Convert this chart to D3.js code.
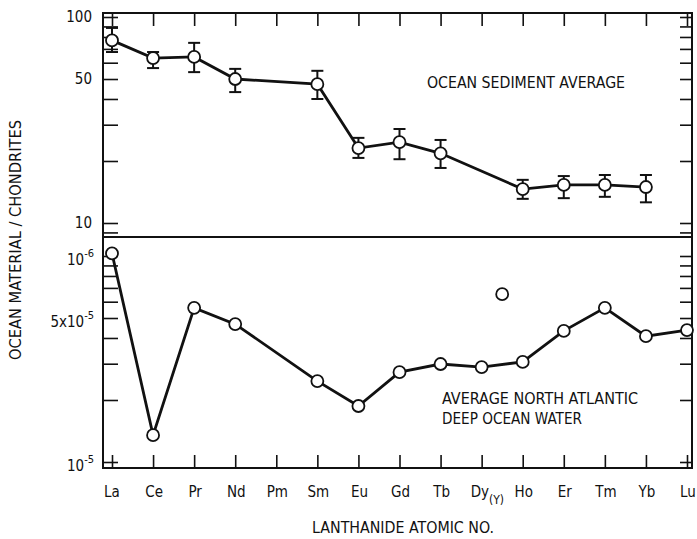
<!DOCTYPE html>
<html>
<head>
<meta charset="utf-8">
<script src="https://cdn.jsdelivr.net/npm/d3@7"></script>
<style>
  html, body { margin: 0; padding: 0; background: #fff; }
  svg text { font-family: "Liberation Sans Narrow", "DejaVu Sans Condensed", "Arial Narrow", sans-serif; fill: #111; }
</style>
</head>
<body>
<script>
// Rare-earth abundances normalised to chondrites
const elements = ["La", "Ce", "Pr", "Nd", "Pm", "Sm", "Eu", "Gd", "Tb", "Dy", "Ho", "Er", "Tm", "Yb", "Lu"];

// Ocean sediment average (mean, upper and lower bounds of the error bar)
const sedimentMean = [77, 63.2, 64, 50, null, 47.2, 23.1, 24.7, 21.8, null, 14.6, 15.3, 15.3, 14.95, null];
const sedimentHigh = [88.5, 67.6, 74.9, 56, null, 54.8, 25.9, 28.6, 25.3, null, 16.2, 16.9, 17.1, 17.1, null];
const sedimentLow  = [67.6, 56.5, 54, 43.2, null, 40, 20.7, 20.4, 18.5, null, 13.1, 13.2, 13.4, 12.6, null];

// Average North Atlantic deep ocean water
const seawater = [1.03e-4, 1.35e-5, 5.6e-5, 4.67e-5, null, 2.47e-5, 1.87e-5, 2.73e-5, 2.99e-5, 2.89e-5, 3.06e-5, 4.33e-5, 5.6e-5, 4.08e-5, 4.37e-5];

// Yttrium, placed between Dy and Ho
const yttriumPosition = 9.5;
const yttriumValue = 6.53e-5;

// Axis ticks and labels
const sedimentTicks = [9, 10, 20, 30, 40, 50, 60, 70, 80, 90, 100];
const sedimentTickLabels = [{ v: 100, text: "100" }, { v: 50, text: "50" }, { v: 10, text: "10" }];
const waterTicks = [1e-5, 2e-5, 3e-5, 4e-5, 5e-5, 6e-5, 7e-5, 8e-5, 9e-5, 1e-4];
const waterTickLabels = [
  { v: 1e-4, base: "10", exp: "-6" },
  { v: 5e-5, base: "5x10", exp: "-5" },
  { v: 1e-5, base: "10", exp: "-5" }
];

const W = 697, H = 539;
const frame = { left: 103, right: 692, top: 13, bottom: 468, split: 237 };

const svg = d3.select("body").append("svg").attr("width", W).attr("height", H);
svg.append("rect").attr("width", W).attr("height", H).attr("fill", "#fff");

const x = d3.scaleLinear().domain([0, elements.length - 1]).range([112, 687]);
const ySed = d3.scaleLog().domain([10, 100]).range([223, 17]);
const yWater = d3.scaleLog().domain([1e-5, 1e-4]).range([462, 256]);

const ink = "#111";

// Tick marks on all four sides, pointing into the plot
function ticks(g) { g.select(".domain").remove(); g.selectAll("line").attr("stroke", ink).attr("stroke-width", 1.6); }

svg.append("g").attr("transform", `translate(${frame.left},0)`)
  .call(d3.axisLeft(ySed).tickValues(sedimentTicks).tickSize(-15).tickFormat("")).call(ticks);
svg.append("g").attr("transform", `translate(${frame.right},0)`)
  .call(d3.axisRight(ySed).tickValues(sedimentTicks).tickSize(-12).tickFormat("")).call(ticks);
svg.append("g").attr("transform", `translate(${frame.left},0)`)
  .call(d3.axisLeft(yWater).tickValues(waterTicks).tickSize(-15).tickFormat("")).call(ticks);
svg.append("g").attr("transform", `translate(${frame.right},0)`)
  .call(d3.axisRight(yWater).tickValues(waterTicks).tickSize(-12).tickFormat("")).call(ticks);
svg.append("g").attr("transform", `translate(0,${frame.bottom})`)
  .call(d3.axisBottom(x).tickValues(d3.range(elements.length)).tickSize(-13).tickFormat("")).call(ticks);
svg.append("g").attr("transform", `translate(0,${frame.top})`)
  .call(d3.axisTop(x).tickValues(d3.range(elements.length)).tickSize(-13).tickFormat("")).call(ticks);

// Frame and the line separating the two panels
svg.append("rect")
  .attr("x", frame.left).attr("y", frame.top)
  .attr("width", frame.right - frame.left).attr("height", frame.bottom - frame.top)
  .attr("fill", "none").attr("stroke", ink).attr("stroke-width", 2);
svg.append("line")
  .attr("x1", frame.left).attr("x2", frame.right)
  .attr("y1", frame.split).attr("y2", frame.split)
  .attr("stroke", ink).attr("stroke-width", 1.8);

// Y tick labels
svg.selectAll("text.sedTick").data(sedimentTickLabels).join("text")
  .attr("class", "sedTick")
  .attr("x", 92).attr("y", d => ySed(d.v) + 5)
  .attr("text-anchor", "end").attr("font-size", 15)
  .text(d => d.text);

const wl = svg.selectAll("text.waterTick").data(waterTickLabels).join("text")
  .attr("class", "waterTick")
  .attr("x", 94).attr("y", d => yWater(d.v) + 9)
  .attr("text-anchor", "end").attr("font-size", 15);
wl.append("tspan").text(d => d.base);
wl.append("tspan").attr("font-size", 11).attr("dy", -8).text(d => d.exp);

// Element labels along the bottom
elements.forEach((el, i) => {
  if (el === "Dy") {
    const t = svg.append("text").attr("x", x(i) - 11).attr("y", 497).attr("font-size", 15);
    t.append("tspan").text("Dy");
    t.append("tspan").attr("font-size", 12).attr("dy", 7).text("(Y)");
  } else {
    svg.append("text").attr("x", x(i) + (i === 0 ? 0 : 1)).attr("y", 497)
      .attr("text-anchor", "middle").attr("font-size", 15).text(el);
  }
});

// Axis titles
svg.append("text").attr("x", 403).attr("y", 533).attr("text-anchor", "middle")
  .attr("font-size", 15).attr("textLength", 182).attr("lengthAdjust", "spacingAndGlyphs")
  .text("LANTHANIDE ATOMIC NO.");
svg.append("text")
  .attr("transform", "translate(21,240) rotate(-90)")
  .attr("text-anchor", "middle").attr("font-size", 15)
  .attr("textLength", 240).attr("lengthAdjust", "spacingAndGlyphs")
  .text("OCEAN MATERIAL / CHONDRITES");

// Series captions
svg.append("text").attr("x", 427).attr("y", 88).attr("font-size", 16)
  .attr("textLength", 198).attr("lengthAdjust", "spacingAndGlyphs").text("OCEAN SEDIMENT AVERAGE");
svg.append("text").attr("x", 442).attr("y", 404).attr("font-size", 16)
  .attr("textLength", 196).attr("lengthAdjust", "spacingAndGlyphs").text("AVERAGE NORTH ATLANTIC");
svg.append("text").attr("x", 442).attr("y", 424).attr("font-size", 16)
  .attr("textLength", 140).attr("lengthAdjust", "spacingAndGlyphs").text("DEEP OCEAN WATER");

// Sediment series
const sed = sedimentMean.map((v, i) => ({ i, v, hi: sedimentHigh[i], lo: sedimentLow[i] })).filter(d => d.v != null);
svg.append("path").datum(sed)
  .attr("d", d3.line().x(d => x(d.i)).y(d => ySed(d.v)))
  .attr("fill", "none").attr("stroke", ink).attr("stroke-width", 2.8);

const bars = svg.append("g").selectAll("g").data(sed).join("g");
bars.append("line").attr("x1", d => x(d.i)).attr("x2", d => x(d.i))
  .attr("y1", d => ySed(d.hi)).attr("y2", d => ySed(d.lo))
  .attr("stroke", ink).attr("stroke-width", 2);
bars.append("line").attr("x1", d => x(d.i) - 6).attr("x2", d => x(d.i) + 6)
  .attr("y1", d => ySed(d.hi)).attr("y2", d => ySed(d.hi))
  .attr("stroke", ink).attr("stroke-width", 2);
bars.append("line").attr("x1", d => x(d.i) - 6).attr("x2", d => x(d.i) + 6)
  .attr("y1", d => ySed(d.lo)).attr("y2", d => ySed(d.lo))
  .attr("stroke", ink).attr("stroke-width", 2);
bars.append("circle").attr("cx", d => x(d.i)).attr("cy", d => ySed(d.v)).attr("r", 6)
  .attr("fill", "#fff").attr("stroke", ink).attr("stroke-width", 1.8);

// Seawater series
const sw = seawater.map((v, i) => ({ i, v })).filter(d => d.v != null);
svg.append("path").datum(sw)
  .attr("d", d3.line().x(d => x(d.i)).y(d => yWater(d.v)))
  .attr("fill", "none").attr("stroke", ink).attr("stroke-width", 2.8);
svg.append("g").selectAll("circle").data(sw).join("circle")
  .attr("cx", d => x(d.i)).attr("cy", d => yWater(d.v)).attr("r", 6)
  .attr("fill", "#fff").attr("stroke", ink).attr("stroke-width", 1.8);

svg.append("circle").attr("cx", x(yttriumPosition)).attr("cy", yWater(yttriumValue)).attr("r", 6)
  .attr("fill", "#fff").attr("stroke", ink).attr("stroke-width", 1.8);
</script>
</body>
</html>
